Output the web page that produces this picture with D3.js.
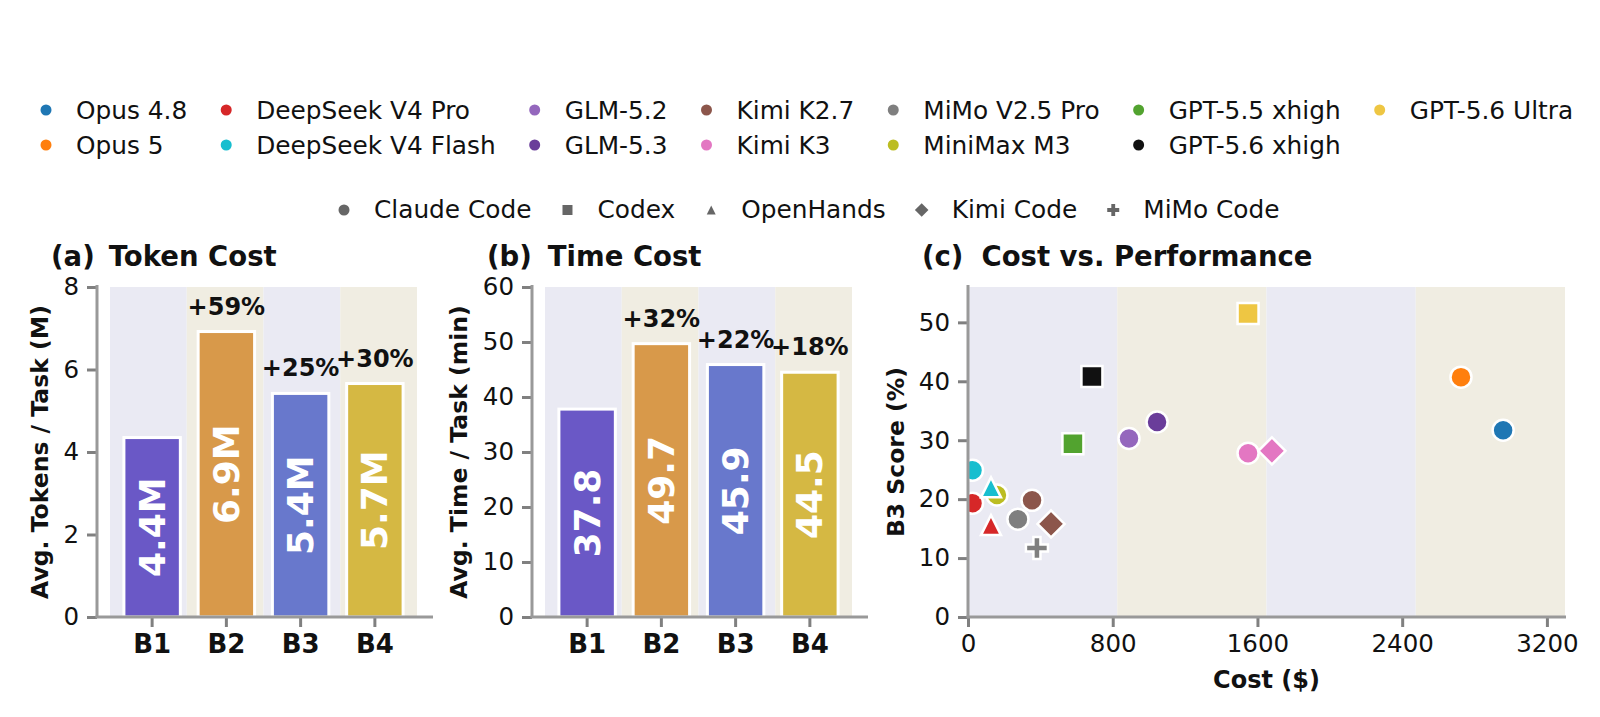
<!DOCTYPE html>
<html>
<head>
<meta charset="utf-8">
<script src="https://cdn.jsdelivr.net/npm/d3@7"></script>
<style>
body { margin: 0; background: #fff; }
text { font-family: "DejaVu Sans", sans-serif; fill: #111; }
</style>
</head>
<body>
<script>
// bar panels
var benches = ["B1", "B2", "B3", "B4"];
var tokenVals = [4.35, 6.92, 5.42, 5.66];
var tokenLabels = ["4.4M", "6.9M", "5.4M", "5.7M"];
var tokenPct = ["", "+59%", "+25%", "+30%"];
var timeVals = [37.8, 49.7, 45.9, 44.5];
var timeLabels = ["37.8", "49.7", "45.9", "44.5"];
var timePct = ["", "+32%", "+22%", "+18%"];
var benchColors = ["#6a58c6", "#d8994a", "#6878cc", "#d5b843"];
var bandColors = ["#eaeaf3", "#f0ede2"];

// legend
var models = ["Opus 4.8", "Opus 5", "DeepSeek V4 Pro", "DeepSeek V4 Flash", "GLM-5.2", "GLM-5.3",
  "Kimi K2.7", "Kimi K3", "MiMo V2.5 Pro", "MiniMax M3", "GPT-5.5 xhigh", "GPT-5.6 xhigh", "GPT-5.6 Ultra"];
var modelColors = ["#1f77b4", "#ff7f0e", "#d62728", "#17becf", "#9467bd", "#6a3d9a",
  "#8c564b", "#e377c2", "#7f7f7f", "#bcbd22", "#52a32f", "#111111", "#eec643"];
var agents = ["Claude Code", "Codex", "OpenHands", "Kimi Code", "MiMo Code"];
var agentShapes = ["circle", "square", "triangle", "diamond", "plus"];

// scatter points (c)
var ptModel = ["Opus 4.8", "Opus 5", "DeepSeek V4 Pro", "DeepSeek V4 Flash", "GLM-5.2", "GLM-5.3",
  "Kimi K2.7", "Kimi K3", "MiMo V2.5 Pro", "MiniMax M3",
  "GPT-5.5 xhigh", "GPT-5.6 xhigh", "GPT-5.6 Ultra",
  "DeepSeek V4 Pro", "DeepSeek V4 Flash",
  "Kimi K2.7", "Kimi K3",
  "MiMo V2.5 Pro"];
var ptAgent = ["Claude Code", "Claude Code", "Claude Code", "Claude Code", "Claude Code", "Claude Code",
  "Claude Code", "Claude Code", "Claude Code", "Claude Code",
  "Codex", "Codex", "Codex",
  "OpenHands", "OpenHands",
  "Kimi Code", "Kimi Code",
  "MiMo Code"];
var ptCost = [2958, 2725, 25, 25, 890, 1045, 354, 1548, 276, 160, 580, 685, 1548, 127, 127, 459, 1680, 381];
var ptScore = [31.7, 40.7, 19.3, 24.9, 30.3, 33.1, 19.8, 27.8, 16.6, 20.7, 29.4, 40.8, 51.5, 15.6, 22.0, 15.8, 28.2, 11.7];
var costTicks = [0, 800, 1600, 2400, 3200];

var svg = d3.select("body").append("svg")
  .attr("width", 1600)
  .attr("height", 717);

var spineColor = "#999999";
var tickColor = "#808080";
var yTop = 287, yBot = 617;

function shapePath(shape, s) {
  if (shape == "circle") return d3.symbol(d3.symbolCircle, Math.PI * s * s)();
  if (shape == "square") return "M" + (-s) + "," + (-s) + "H" + s + "V" + s + "H" + (-s) + "Z";
  if (shape == "triangle") return "M0," + (-s) + "L" + s + "," + s + "L" + (-s) + "," + s + "Z";
  if (shape == "diamond") {
    var d = s * 1.41;
    return "M0," + (-d) + "L" + d + ",0L0," + d + "L" + (-d) + ",0Z";
  }
  // filled plus
  var w = s * 0.32;
  return "M" + (-w) + "," + (-s) + "H" + w + "V" + (-w) + "H" + s + "V" + w + "H" + w + "V" + s +
    "H" + (-w) + "V" + w + "H" + (-s) + "V" + (-w) + "H" + (-w) + "Z";
}

function styleAxis(g) {
  g.select(".domain").remove();
  g.selectAll(".tick line").attr("stroke", tickColor).attr("stroke-width", 3);
  g.selectAll(".tick text").style("font-size", "24.5px").attr("fill", "#111");
}

function spines(g, x0, x1) {
  g.append("line").attr("x1", x0).attr("x2", x0).attr("y1", yTop - 2).attr("y2", yBot)
    .attr("stroke", spineColor).attr("stroke-width", 3);
  g.append("line").attr("x1", x0 - 1.5).attr("x2", x1).attr("y1", yBot).attr("y2", yBot)
    .attr("stroke", spineColor).attr("stroke-width", 3);
}

function title(g, x, tag, name, gap) {
  var t = g.append("text").attr("x", x).attr("y", 266)
    .style("font-size", "27.5px").style("font-weight", "bold");
  t.append("tspan").text(tag);
  t.append("tspan").attr("dx", gap).text(name);
}

function yLabel(g, x, txt) {
  g.append("text")
    .attr("transform", "translate(" + x + ",452) rotate(-90)")
    .attr("text-anchor", "middle")
    .style("font-size", "23.5px").style("font-weight", "bold")
    .text(txt);
}

function barPanel(spineX, vals, labels, pct, ymax, ticks, tag, name, gap, ylab, ylabX) {
  var g = svg.append("g");
  var y = d3.scaleLinear().domain([0, ymax]).range([yBot, yTop]);
  var xb = d3.scaleBand().domain(benches).range([spineX + 13, spineX + 320]);
  var x = d3.scaleBand().domain(benches).range([spineX + 18, spineX + 315]);

  g.selectAll("rect.bg").data(benches).enter().append("rect")
    .attr("x", function(d) { return xb(d); })
    .attr("y", yTop)
    .attr("width", xb.bandwidth())
    .attr("height", yBot - yTop)
    .attr("fill", function(d, i) { return bandColors[i % 2]; });

  var bw = x.bandwidth() * 0.76;
  g.selectAll("rect.bar").data(vals).enter().append("rect")
    .attr("x", function(d, i) { return x(benches[i]) + (x.bandwidth() - bw) / 2; })
    .attr("y", function(d) { return y(d); })
    .attr("width", bw)
    .attr("height", function(d) { return yBot - y(d); })
    .attr("fill", function(d, i) { return benchColors[i]; })
    .attr("stroke", "#fff")
    .attr("stroke-width", 3);

  g.selectAll("text.inner").data(vals).enter().append("text")
    .attr("transform", function(d, i) {
      return "translate(" + (x(benches[i]) + x.bandwidth() / 2) + "," + ((y(d) + yBot) / 2) + ") rotate(-90)";
    })
    .attr("text-anchor", "middle")
    .attr("dominant-baseline", "central")
    .style("font-size", "36px").style("font-weight", "bold").style("fill", "#fff")
    .text(function(d, i) { return labels[i]; });

  g.selectAll("text.pct").data(vals).enter().append("text")
    .attr("x", function(d, i) { return x(benches[i]) + x.bandwidth() / 2; })
    .attr("y", function(d) { return y(d) - 17; })
    .attr("text-anchor", "middle")
    .style("font-size", "24px").style("font-weight", "bold")
    .text(function(d, i) { return pct[i]; });

  g.append("g").attr("transform", "translate(" + spineX + ",0)")
    .call(d3.axisLeft(y).tickValues(ticks).tickSize(10).tickPadding(8))
    .call(styleAxis);
  g.append("g").attr("transform", "translate(0," + yBot + ")")
    .call(d3.axisBottom(x).tickSize(10).tickPadding(8))
    .call(styleAxis)
    .call(function(a) { a.selectAll(".tick text").style("font-size", "26px").style("font-weight", "bold"); });

  spines(g, spineX, spineX + 336);
  title(g, tag == "(a)" ? 51 : 487, tag, name, gap);
  yLabel(g, ylabX, ylab);
}

barPanel(97, tokenVals, tokenLabels, tokenPct, 8, [0, 2, 4, 6, 8], "(a)", "Token Cost", 14, "Avg. Tokens / Task (M)", 48);
barPanel(532, timeVals, timeLabels, timePct, 60, [0, 10, 20, 30, 40, 50, 60], "(b)", "Time Cost", 16, "Avg. Time / Task (min)", 467);

// (c) scatter
var gc = svg.append("g");
var cx0 = 968, cx1 = 1565;
var xs = d3.scaleLinear().domain([0, 3300]).range([cx0, cx1]);
var ys = d3.scaleLinear().domain([0, 56]).range([yBot, yTop]);
var colorOf = d3.scaleOrdinal().domain(models).range(modelColors);
var shapeOf = d3.scaleOrdinal().domain(agents).range(agentShapes);

var bandEdges = [0, 825, 1650, 2475, 3300];
gc.selectAll("rect.bg").data(bandEdges.slice(0, 4)).enter().append("rect")
  .attr("x", function(d) { return xs(d); })
  .attr("y", yTop)
  .attr("width", function(d, i) { return xs(bandEdges[i + 1]) - xs(d); })
  .attr("height", yBot - yTop)
  .attr("fill", function(d, i) { return bandColors[i % 2]; });

svg.append("clipPath").attr("id", "clipc").append("rect")
  .attr("x", cx0).attr("y", yTop).attr("width", cx1 - cx0).attr("height", yBot - yTop);

var sizes = { circle: 10.5, square: 10.5, triangle: 10, diamond: 9.6, plus: 11 };
gc.append("g").attr("clip-path", "url(#clipc)")
  .selectAll("path").data(ptCost).enter().append("path")
  .attr("transform", function(d, i) { return "translate(" + xs(d) + "," + ys(ptScore[i]) + ")"; })
  .attr("d", function(d, i) { var s = shapeOf(ptAgent[i]); return shapePath(s, sizes[s]); })
  .attr("fill", function(d, i) { return colorOf(ptModel[i]); })
  .attr("stroke", "#fff")
  .attr("stroke-width", 2.5);

gc.append("g").attr("transform", "translate(" + cx0 + ",0)")
  .call(d3.axisLeft(ys).tickValues([0, 10, 20, 30, 40, 50]).tickSize(10).tickPadding(8))
  .call(styleAxis);
gc.append("g").attr("transform", "translate(0," + yBot + ")")
  .call(d3.axisBottom(xs).tickValues(costTicks).tickFormat(d3.format("d")).tickSize(10).tickPadding(8))
  .call(styleAxis);
spines(gc, cx0, cx1 + 1);
title(gc, 922, "(c)", "Cost vs. Performance", 18);
yLabel(gc, 904, "B3 Score (%)");
gc.append("text").attr("x", (cx0 + cx1) / 2).attr("y", 688)
  .attr("text-anchor", "middle")
  .style("font-size", "24px").style("font-weight", "bold")
  .text("Cost ($)");

// model legend, two rows filled column by column
var leg = svg.append("g");
var lx = 46;
for (var c = 0; c * 2 < models.length; c++) {
  var maxW = 0;
  for (var r = 0; r < 2; r++) {
    var i = c * 2 + r;
    if (i >= models.length) break;
    leg.append("circle").attr("cx", lx).attr("cy", 110 + r * 35).attr("r", 5.5).attr("fill", modelColors[i]);
    var t = leg.append("text").attr("x", lx + 30).attr("y", 119 + r * 35)
      .style("font-size", "24.8px").text(models[i]);
    maxW = Math.max(maxW, t.node().getComputedTextLength());
  }
  lx += 30 + maxW + 39;
}

// agent legend
var lx2 = 344;
var legSizes = { circle: 5.5, square: 5, triangle: 4.5, diamond: 4.8, plus: 6 };
agents.forEach(function(a, i) {
  leg.append("path")
    .attr("transform", "translate(" + lx2 + ",210)")
    .attr("d", shapePath(agentShapes[i], legSizes[agentShapes[i]]))
    .attr("fill", "#666");
  var t = leg.append("text").attr("x", lx2 + 30).attr("y", 218).style("font-size", "24.8px").text(a);
  lx2 += 30 + t.node().getComputedTextLength() + 36;
});
</script>
</body>
</html>
